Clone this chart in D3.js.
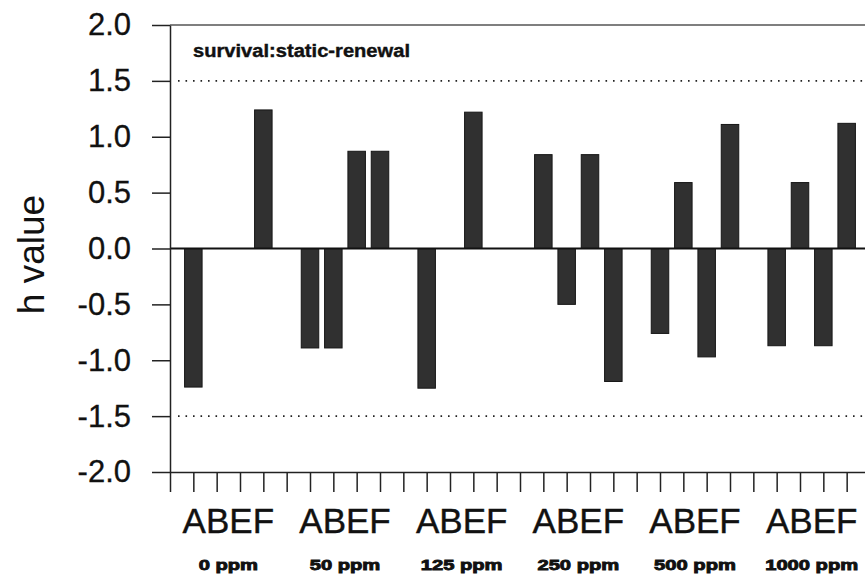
<!DOCTYPE html>
<html>
<head>
<meta charset="utf-8">
<script src="https://cdn.jsdelivr.net/npm/d3@7"></script>
<style>
  html, body { margin: 0; padding: 0; background: #fff; }
  svg { display: block; font-family: Arial, "Liberation Sans", sans-serif; }
</style>
</head>
<body>
<svg id="chart" width="865" height="580"></svg>
<script>
// Exposure concentrations (one group of bars each) and the four treatments per group
const groups = ["0 ppm", "50 ppm", "125 ppm", "250 ppm", "500 ppm", "1000 ppm"];
const treatments = ["A", "B", "E", "F"];

// h values per treatment, one entry per concentration group
const seriesA = [-1.24, -0.89, -1.25, 0.84, -0.76, -0.87];
const seriesB = [0.00, -0.89, 0.00, -0.50, 0.59, 0.59];
const seriesE = [0.00, 0.87, 1.22, 0.84, -0.97, -0.87];
const seriesF = [1.24, 0.87, 0.00, -1.19, 1.11, 1.12];

// y axis ticks and the critical h bounds drawn as dotted lines
const yTicks = [2.0, 1.5, 1.0, 0.5, 0.0, -0.5, -1.0, -1.5, -2.0];
const criticalH = [1.5, -1.5];

const panelTitle = "survival:static-renewal";
const yLabel = "h value";

const series = [seriesA, seriesB, seriesE, seriesF];
const slotsPerGroup = treatments.length + 1;   // four bars and one empty slot
const slotCount = groups.length * slotsPerGroup;

const svg = d3.select("#chart");
const plotLeft = 170, plotTop = 25, plotBottom = 472, plotRight = 870;

const x = d3.scaleLinear().domain([0, slotCount]).range([plotLeft, plotRight]);
const y = d3.scaleLinear().domain([-2, 2]).range([plotBottom, plotTop]);
const barW = 17.5;

const bars = [];
groups.forEach((g, gi) => {
  treatments.forEach((t, ti) => {
    bars.push({ group: g, treatment: t, slot: gi * slotsPerGroup + ti + 1, value: series[ti][gi] });
  });
});

// frame: top border
svg.append("line")
  .attr("x1", plotLeft).attr("x2", 865)
  .attr("y1", y(2)).attr("y2", y(2))
  .attr("stroke", "#555").attr("stroke-width", 1.5);

// dotted critical-value lines
svg.selectAll("line.crit").data(criticalH).join("line")
  .attr("class", "crit")
  .attr("x1", plotLeft + 8).attr("x2", 865)
  .attr("y1", d => y(d)).attr("y2", d => y(d))
  .attr("stroke", "#222").attr("stroke-width", 1.6)
  .attr("stroke-dasharray", "1.6,5.9");

// bars
svg.selectAll("rect.bar").data(bars).join("rect")
  .attr("class", "bar")
  .attr("x", d => x(d.slot) - barW / 2)
  .attr("width", barW)
  .attr("y", d => y(Math.max(0, d.value)))
  .attr("height", d => Math.abs(y(d.value) - y(0)))
  .attr("fill", "#303030")
  .attr("stroke", "#161616")
  .attr("stroke-width", 1);

// zero line
svg.append("line")
  .attr("x1", plotLeft).attr("x2", 865)
  .attr("y1", y(0)).attr("y2", y(0))
  .attr("stroke", "#111").attr("stroke-width", 1.8);

// left axis
const yAxis = d3.axisLeft(y)
  .tickValues(yTicks)
  .tickSize(18)
  .tickSizeOuter(0)
  .tickPadding(21)
  .tickFormat(d => d.toFixed(1));
const gy = svg.append("g").attr("transform", `translate(${plotLeft},0)`).call(yAxis);
gy.select(".domain").attr("stroke", "#222").attr("stroke-width", 1.5);
gy.selectAll(".tick line").attr("stroke", "#222").attr("stroke-width", 1.5);
gy.selectAll(".tick text")
  .attr("font-size", 31)
  .attr("fill", "#111")
  .attr("stroke", "#111")
  .attr("stroke-width", 0.3)
  .attr("font-family", "Arial, 'Liberation Sans', sans-serif");

// bottom axis: a tick at every slot, no labels
const xAxis = d3.axisBottom(x)
  .tickValues(d3.range(0, slotCount))
  .tickSize(20)
  .tickSizeOuter(0)
  .tickFormat("");
const gx = svg.append("g").attr("transform", `translate(0,${plotBottom})`).call(xAxis);
gx.select(".domain").attr("stroke", "#222").attr("stroke-width", 1.5);
gx.selectAll(".tick line").attr("stroke", "#222").attr("stroke-width", 1.5);

// group labels
const groupCenter = gi => x(gi * slotsPerGroup + 1 + (treatments.length - 1) / 2);

svg.selectAll("text.trt").data(groups).join("text")
  .attr("class", "trt")
  .attr("x", (d, i) => groupCenter(i))
  .attr("y", 533)
  .attr("text-anchor", "middle")
  .attr("font-size", 35)
  .attr("fill", "#111")
  .attr("stroke", "#111")
  .attr("stroke-width", 0.4)
  .text(treatments.join(""));

// concentration labels: heavy, horizontally widened type
const conc = svg.selectAll("text.conc").data(groups).join("text")
  .attr("class", "conc")
  .attr("x", (d, i) => groupCenter(i))
  .attr("y", 570)
  .attr("text-anchor", "middle")
  .attr("font-size", 15.5)
  .attr("font-weight", "bold")
  .attr("fill", "#111")
  .attr("stroke", "#111")
  .attr("stroke-width", 0.9)
  .text(d => d);
conc.each(function () {
  const w = this.getComputedTextLength();
  d3.select(this).attr("textLength", w * 1.3).attr("lengthAdjust", "spacingAndGlyphs");
});

// panel title
svg.append("text")
  .attr("x", 193)
  .attr("y", 57)
  .attr("font-size", 18)
  .attr("font-weight", "bold")
  .attr("fill", "#111")
  .attr("stroke", "#111")
  .attr("stroke-width", 0.4)
  .attr("textLength", 217)
  .attr("lengthAdjust", "spacingAndGlyphs")
  .text(panelTitle);

// y axis title
svg.append("text")
  .attr("transform", `translate(44,${y(0) + 6}) rotate(-90)`)
  .attr("text-anchor", "middle")
  .attr("font-size", 37)
  .attr("fill", "#111")
  .text(yLabel);
</script>
</body>
</html>
